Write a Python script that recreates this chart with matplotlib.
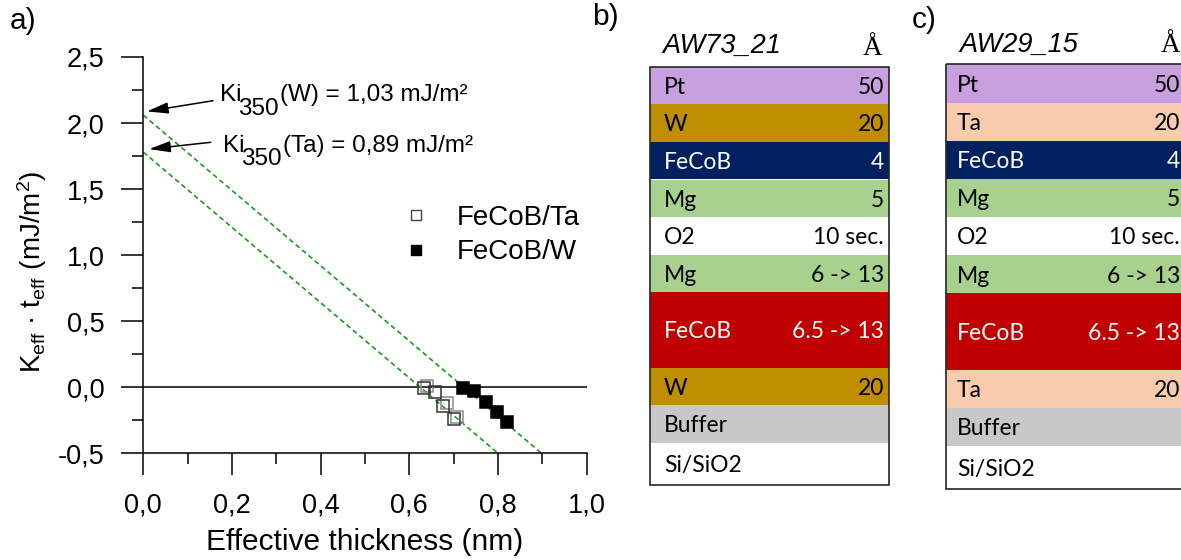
import matplotlib
matplotlib.use("Agg")
import matplotlib.pyplot as plt
from matplotlib.patches import Rectangle
from matplotlib.lines import Line2D
from matplotlib.ticker import MultipleLocator, FuncFormatter

plt.rcParams["font.family"] = ["Liberation Sans", "DejaVu Sans"]
plt.rcParams["mathtext.fontset"] = "custom"
plt.rcParams["mathtext.rm"] = "Liberation Sans"
plt.rcParams["mathtext.it"] = "Liberation Sans:italic"

# ---------------- data ----------------
ta_thickness = [0.634, 0.658, 0.677, 0.701]
ta_keff = [-0.008, -0.038, -0.141, -0.240]
ta_repeat_thickness = [0.639, 0.684, 0.707]
ta_repeat_keff = [0.012, -0.121, -0.222]
w_thickness = [0.722, 0.746, 0.772, 0.797, 0.821]
w_keff = [-0.008, -0.026, -0.109, -0.189, -0.265]

ki_w = 1.03          # mJ/m^2
ki_ta = 0.89         # mJ/m^2
fit_slope = -2.85    # mJ/m^2 per nm

x_ticks = [0.0, 0.2, 0.4, 0.6, 0.8, 1.0]
y_ticks = [-0.5, 0.0, 0.5, 1.0, 1.5, 2.0, 2.5]

# layer stacks (top to bottom)
stack_names_w = ["Pt", "W", "FeCoB", "Mg", "O2", "Mg", "FeCoB", "W", "Buffer", "Si/SiO2"]
stack_names_ta = ["Pt", "Ta", "FeCoB", "Mg", "O2", "Mg", "FeCoB", "Ta", "Buffer", "Si/SiO2"]
stack_values = ["50", "20", "4", "5", "10 sec.", "6 -> 13", "6.5 -> 13", "20", "", ""]
stack_rows = [1, 1, 1, 1, 1, 1, 2, 1, 1, 1.12]

C_PT, C_W, C_TA = "#c8a0e0", "#bf8f00", "#f8cbad"
C_NAVY, C_MG, C_RED, C_BUF = "#002060", "#a9d18e", "#c00000", "#c8c8c8"
colors_w = [C_PT, C_W, C_NAVY, C_MG, "white", C_MG, C_RED, C_W, C_BUF, "white"]
colors_ta = [C_PT, C_TA, C_NAVY, C_MG, "white", C_MG, C_RED, C_TA, C_BUF, "white"]
text_colors = ["black", "black", "white", "black", "black", "black", "white", "black", "black", "black"]

# ---------------- figure ----------------
W, H = 1181, 560
fig = plt.figure(figsize=(W / 100, H / 100), dpi=100)

x0, x1 = 143.3, 586.7
y_top, y_bot = 57.0, 453.3
ax = fig.add_axes([x0 / W, 1 - y_bot / H, (x1 - x0) / W, (y_bot - y_top) / H])
ax.set_xlim(0, 1.0)
ax.set_ylim(-0.5, 2.5)
for s in ("top", "right"):
    ax.spines[s].set_visible(False)
for s in ("left", "bottom"):
    ax.spines[s].set_linewidth(1.1)
ax.set_xticks(x_ticks)
ax.set_yticks(y_ticks)
ax.xaxis.set_minor_locator(MultipleLocator(0.1))
ax.yaxis.set_minor_locator(MultipleLocator(0.25))
comma = FuncFormatter(lambda v, p: f"{v:.1f}".replace(".", ","))
ax.xaxis.set_major_formatter(comma)
ax.yaxis.set_major_formatter(comma)
ax.tick_params(which="major", length=16, width=1.1, pad=12, labelsize=19.5, direction="out")
ax.tick_params(which="minor", length=8, width=1.1, direction="out")

ax.axhline(0, color="black", lw=1.1, zorder=1)

ymin = ax.get_ylim()[0]
for ki in (ki_w, ki_ta):
    b = 2 * ki
    x_end = (b - ymin) / (-fit_slope)
    ax.plot([0, x_end], [b, b + fit_slope * x_end], ls=(0, (3, 2)),
            color="#1e9a1e", lw=1.2, zorder=2)

ax.plot(ta_repeat_thickness, ta_repeat_keff, "s", mfc="none", mec="#8a8a8a",
        ms=8.4, mew=1.1, zorder=3)
ax.plot(ta_thickness, ta_keff, "s", mfc="none", mec="#333333", ms=8.4, mew=1.1, zorder=4)
ax.plot(w_thickness, w_keff, "s", mfc="black", mec="black", ms=8.4, mew=1.1, zorder=4)

handles = [Line2D([], [], ls="none", marker="s", mfc="white", mec="#444444", ms=8.4, mew=1.0),
           Line2D([], [], ls="none", marker="s", mfc="black", mec="black", ms=8.4, mew=1.0)]
ax.legend(handles, ["FeCoB/Ta", "FeCoB/W"], loc="upper left",
          bbox_to_anchor=(402 / W, 1 - 205 / H), bbox_transform=fig.transFigure,
          frameon=False, fontsize=20, handlelength=1.0, handletextpad=0.97,
          labelspacing=0.3, borderpad=0, borderaxespad=0, markerscale=0.85)

fig.text(364.5 / W, 1 - 541.7 / H, "Effective thickness (nm)", ha="center", va="center",
         fontsize=21.5)
fig.text(32 / W, 1 - 272 / H,
         r"K$_\mathregular{eff}$ · t$_\mathregular{eff}$ (mJ/m$^\mathregular{2}$)",
         rotation=90, ha="center", va="center", fontsize=20)

# ---------------- pixel overlay ----------------
px = fig.add_axes([0, 0, 1, 1])
px.set_xlim(0, W)
px.set_ylim(H, 0)
px.axis("off")
px.patch.set_visible(False)

renderer = fig.canvas.get_renderer()


def text_runs(x, base, pieces, size):
    for txt, dy, gap in pieces:
        t = px.text(x, base + dy, txt, fontsize=size, ha="left", va="baseline")
        x += t.get_window_extent(renderer=renderer).width + gap


def fmt(v):
    return f"{v:.2f}".replace(".", ",")


text_runs(220, 101.3, [("Ki", 0, -3), ("350", 13.7, 1), (f"(W) = {fmt(ki_w)} mJ/m²", 0, 0)], 17.5)
text_runs(223, 151.7, [("Ki", 0, -3), ("350", 13.7, 1), (f"(Ta) = {fmt(ki_ta)} mJ/m²", 0, 0)], 17.5)

arrow = dict(arrowstyle="-|>,head_length=0.65,head_width=0.17", color="black", lw=1.1,
             mutation_scale=20, shrinkA=0, shrinkB=0)
ax.annotate("", xy=(0.008, 2 * ki_w + 0.028), xycoords="data",
            xytext=(213, 100.7), textcoords=px.transData, arrowprops=arrow)
ax.annotate("", xy=(0.013, 2 * ki_ta + 0.023), xycoords="data",
            xytext=(210.7, 142.3), textcoords=px.transData, arrowprops=arrow)

# panel labels
px.text(10, 21, "a)", fontsize=21.5, ha="left", va="center")
px.text(592, 17, "b)", fontsize=21.5, ha="left", va="center")
px.text(912, 20, "c)", fontsize=21.5, ha="left", va="center")


def draw_stack(left, right, top, unit, names, fills, name_x, value_x,
               title, title_x, title_base, ang_x, ang_base):
    y = top
    size = 16.5
    for name, val, fc, tc, rows in zip(names, stack_values, fills, text_colors, stack_rows):
        h = rows * unit
        px.add_patch(Rectangle((left, y), right - left, h, facecolor=fc, edgecolor="none"))
        base = y + h / 2 + 0.36 * size * 100 / 72
        px.text(name_x, base, name, fontsize=size, family="Lato", color=tc,
                ha="left", va="baseline")
        if val:
            px.text(value_x, base, val, fontsize=size, family="Lato", color=tc,
                    ha="right", va="baseline")
        y += h
    px.add_patch(Rectangle((left, top), right - left, y - top, facecolor="none",
                           edgecolor="#262626", lw=1.2))
    px.text(title_x, title_base, title, fontsize=19.5, style="italic", ha="left", va="baseline")
    px.text(ang_x, ang_base, "Å", fontsize=19.5, family="Liberation Serif",
            ha="center", va="baseline")


draw_stack(649.5, 888.5, 66.7, 37.6, stack_names_w, colors_w, 664, 884,
           "AW73_21", 662, 53.3, 873, 55)
draw_stack(945.5, 1195, 64.3, 38.2, stack_names_ta, colors_ta, 957, 1180,
           "AW29_15", 959, 51.7, 1170.7, 52)

fig.savefig("out.png", dpi=100)
